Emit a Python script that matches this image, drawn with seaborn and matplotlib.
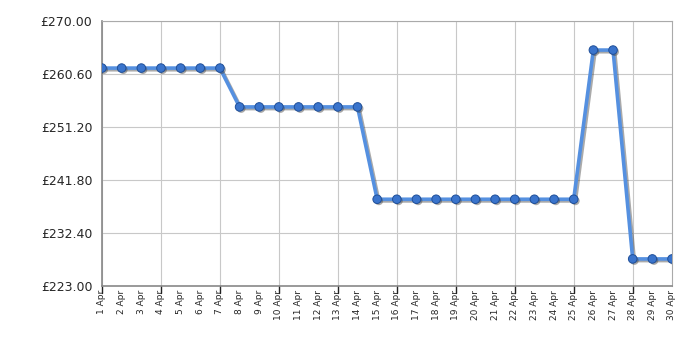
import matplotlib
matplotlib.use("Agg")
import matplotlib.pyplot as plt
import matplotlib.patheffects as pe
import seaborn as sns
import pandas as pd

days = list(range(1, 31))
labels = [f"{d} Apr" for d in days]
prices = [261.7]*7 + [254.8]*7 + [238.4]*11 + [264.9]*2 + [227.8]*3
yticks = [223.00, 232.40, 241.80, 251.20, 260.60, 270.00]

df = pd.DataFrame({"day": days, "price": prices})

sns.set_style("white")
plt.rcParams['font.family'] = ['DejaVu Sans']

fig = plt.figure(figsize=(7, 3.5), dpi=100)
ax = fig.add_axes([0.1457, 0.183, 0.8143, 0.756])

shadow = [pe.SimpleLineShadow(offset=(1.2, -1.2), shadow_color="#444444", alpha=0.45), pe.Normal()]
sns.lineplot(data=df, x="day", y="price", ax=ax, color="#5590e0", linewidth=2.6,
             path_effects=shadow, zorder=3)
sns.scatterplot(data=df, x="day", y="price", ax=ax, color="#3a74cc", edgecolor="#1f4f99",
                s=38, linewidth=0.7, zorder=4,
                path_effects=[pe.SimplePatchShadow(offset=(1.2, -1.2), shadow_rgbFace="#444444", alpha=0.45), pe.Normal()])

ax.set_xlim(1, 30)
ax.set_ylim(223, 270)
ax.set_yticks(yticks)
ax.set_yticklabels([f"£{v:.2f}" for v in yticks], fontsize=9)
ax.set_xticks(days)
ax.set_xticklabels(labels, rotation=90, fontsize=6.5)
ax.set_xlabel("")
ax.set_ylabel("")

for d in range(1, 31, 3):
    ax.axvline(d, color="#c8c8c8", linewidth=0.8, zorder=1)
for v in yticks:
    ax.axhline(v, color="#c8c8c8", linewidth=0.8, zorder=1)

ax.tick_params(axis="y", length=5, width=1, color="#222222", pad=2)
ax.tick_params(axis="x", length=0, pad=3)
for d in range(1, 31, 3):
    ax.plot([d, d], [0, -0.025], transform=ax.get_xaxis_transform(), color="#222222",
            linewidth=1, clip_on=False)

for side in ["left", "bottom"]:
    ax.spines[side].set_color("#888888")
    ax.spines[side].set_linewidth(1.2)
for side in ["top", "right"]:
    ax.spines[side].set_color("#aaaaaa")
    ax.spines[side].set_linewidth(0.8)

fig.savefig("out.png", dpi=100)
